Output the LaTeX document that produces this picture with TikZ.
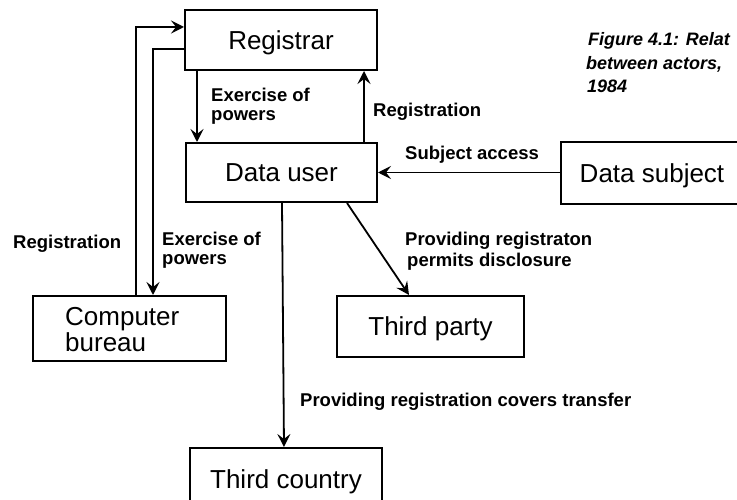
\documentclass[tikz,border=0pt]{standalone}
\usepackage{fontspec}
\setmainfont{Liberation Sans}
\usetikzlibrary{arrows.meta}
\begin{document}
\begin{tikzpicture}[x=1pt,y=-1pt,
  boxnode/.style={draw, line width=2pt, inner sep=0pt,
    font=\fontsize{26}{26}\selectfont, text height=18.6pt, text depth=0pt},
  lbl/.style={anchor=base west, inner sep=0pt, font=\fontsize{18.5}{18.5}\selectfont\bfseries},
  capt/.style={anchor=base west, inner sep=0pt, font=\fontsize{18}{18}\selectfont\bfseries\itshape},
  arr/.style={line width=1.8pt, -{Stealth[length=13pt,width=13pt,inset=5pt]}}]
\useasboundingbox (0,0) rectangle (737,500);
\clip (0,0) rectangle (737,500);
\fill[white] (0,0) rectangle (737,500);

% boxes
\node[boxnode, minimum width=192pt, minimum height=60pt] (reg) at (281,40) {Registrar};
\node[boxnode, minimum width=191pt, minimum height=59pt] (du) at (281.5,172.5) {Data user};
\node[boxnode, minimum width=182pt, minimum height=62pt] (ds) at (652,173.5) {Data subject};
\node[boxnode, minimum width=193pt, minimum height=65pt] (bureau) at (129.5,328.5) {};
\node[anchor=base west, inner sep=0pt, font=\fontsize{26}{26}\selectfont] (bt1) at (65,325) {Computer};
\node[anchor=base west, inner sep=0pt, font=\fontsize{26}{26}\selectfont] (bt2) at (65,351) {bureau};
\node[boxnode, minimum width=187pt, minimum height=61pt] (tp) at (430.5,326.5) {Third party};
\node[boxnode, minimum width=192pt, minimum height=62pt] (tc) at (286,479) {Third country};

% connectors
\draw[arr] ([xshift=104pt]bureau.north west) |- ([yshift=-18pt]reg.north west);
\draw[arr] ([yshift=-40pt]reg.north west) -| ([xshift=121pt]bureau.north west);
\draw[arr] ([xshift=13pt]reg.south west) -- ([xshift=12pt]du.north west);
\draw[arr] ([xshift=-14pt]du.north east) -- ([xshift=-14pt]reg.south east);
\draw[arr] (ds.west |- du.east) -- (du.east);
\draw[arr] ([xshift=162pt]du.south west) -- ([xshift=73pt]tp.north west);
\draw[arr] ([xshift=97pt]du.south west) -- ([xshift=95pt]tc.north west);

% labels
\node[lbl] (l1a) at (211,102) {Exercise of};
\node[lbl] (l1b) at (211,121) {powers};
\node[lbl] (l2) at (373,117) {Registration};
\node[lbl] (l3) at (405,160) {Subject access};
\node[lbl] (l4) at (13,248) {Registration};
\node[lbl] (l5a) at (162,245) {Exercise of};
\node[lbl] (l5b) at (162,265) {powers};
\node[lbl] (l6a) at (405,245) {Providing registraton};
\node[lbl] (l6b) at (407,266) {permits disclosure};
\node[lbl] (l7) at (300,406) {Providing registration covers transfer};

% caption
\node[capt] (c1) at (588,46) {Figure 4.1: Relat};
\node[capt] (c2) at (586,69.5) {between actors,};
\node[capt] (c3) at (587,93) {1984};
\end{tikzpicture}
\end{document}
